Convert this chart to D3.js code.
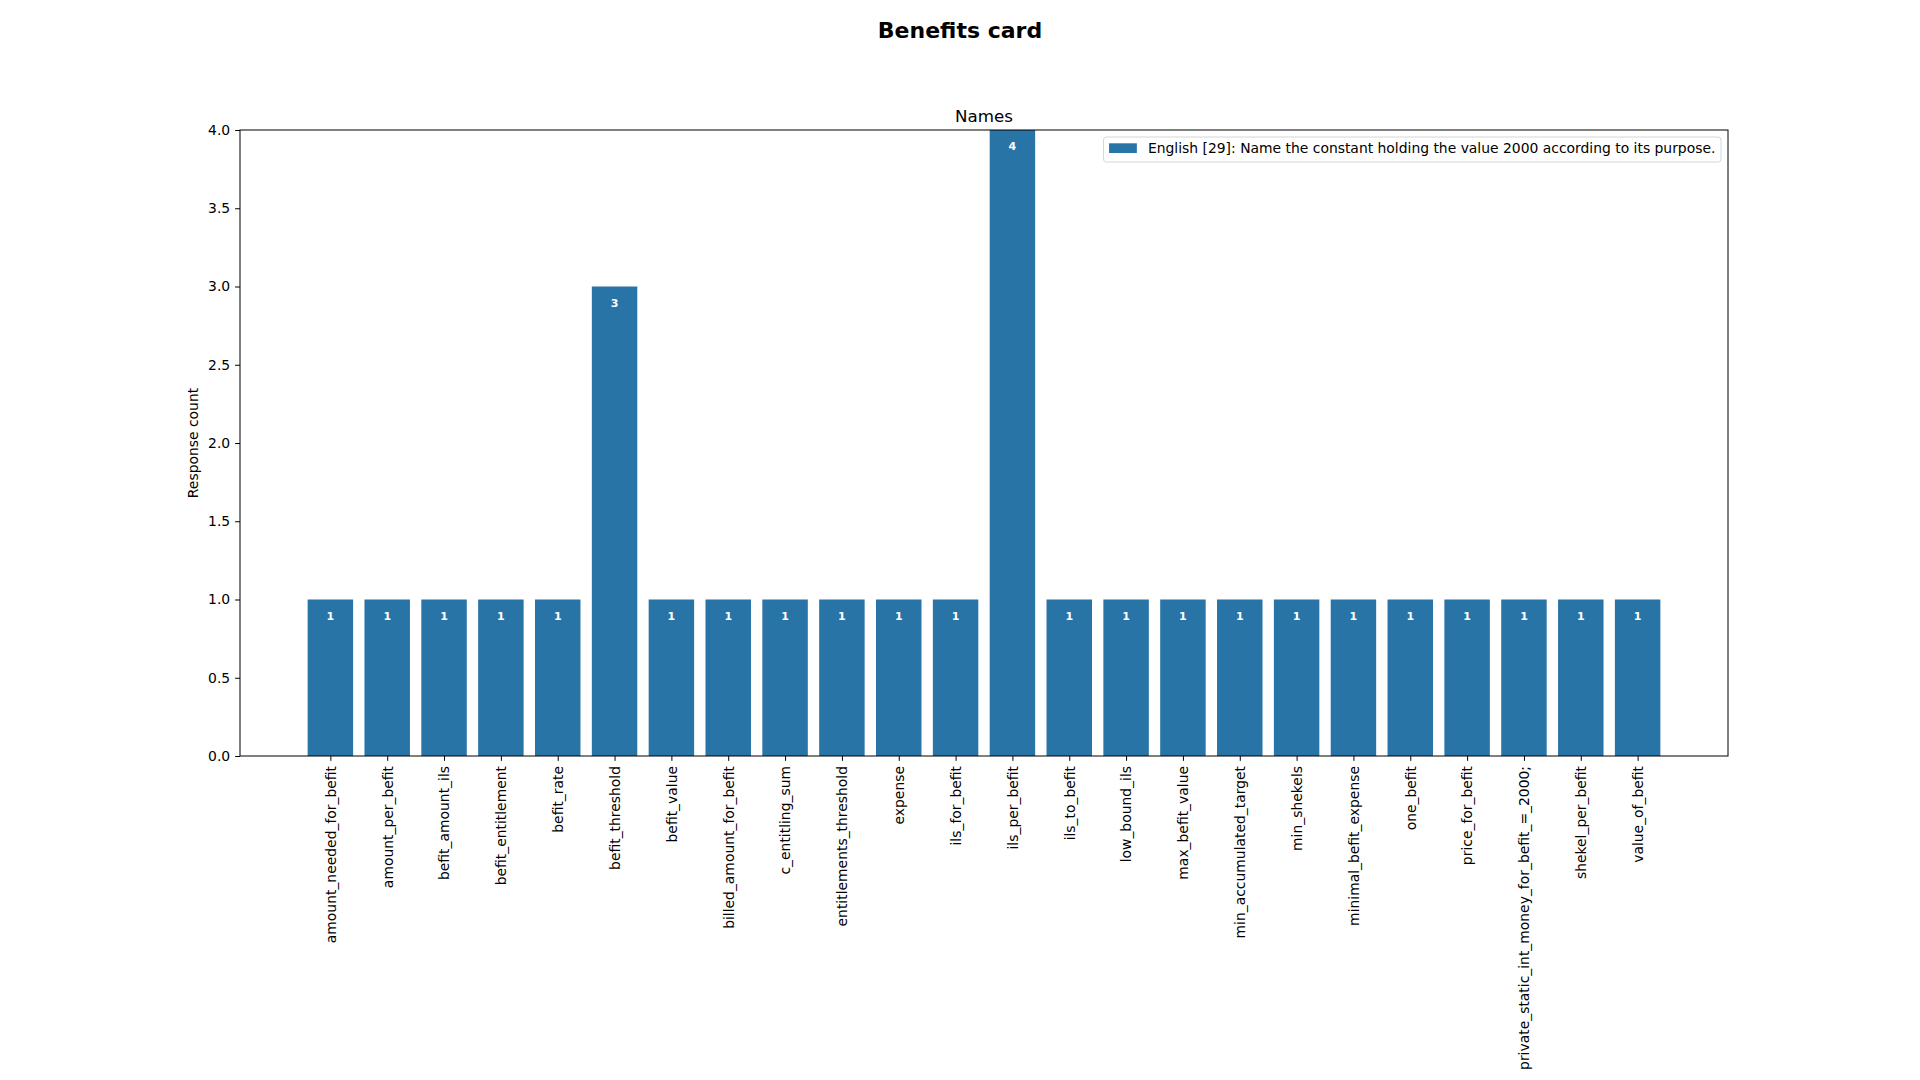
<!doctype html>
<html>
<head>
<meta charset="utf-8">
<style type="text/css">
  html, body { margin: 0; padding: 0; background-color: white; }
  svg { display: block; }
  text { font-family: "DejaVu Sans", sans-serif; fill: black; }
</style>
<script type="text/javascript" src="https://cdn.jsdelivr.net/npm/d3@7/dist/d3.min.js"></script>
</head>
<body>
<svg id="chart" width="1920" height="1080"></svg>
<script type="text/javascript">
  var names = [
    'amount_needed_for_befit', 'amount_per_befit', 'befit_amount_ils', 'befit_entitlement',
    'befit_rate', 'befit_threshold', 'befit_value', 'billed_amount_for_befit',
    'c_entitling_sum', 'entitlements_threshold', 'expense', 'ils_for_befit',
    'ils_per_befit', 'ils_to_befit', 'low_bound_ils', 'max_befit_value',
    'min_accumulated_target', 'min_shekels', 'minimal_befit_expense', 'one_befit',
    'price_for_befit', 'private_static_int_money_for_befit_=_2000;', 'shekel_per_befit', 'value_of_befit'
  ];
  var counts = [1, 1, 1, 1, 1, 3, 1, 1, 1, 1, 1, 1, 4, 1, 1, 1, 1, 1, 1, 1, 1, 1, 1, 1];
  var yTicks = [0, 0.5, 1, 1.5, 2, 2.5, 3, 3.5, 4];
  var seriesLabel = 'English [29]: Name the constant holding the value 2000 according to its purpose.';
  var barColor = '#2874a6';

  function draw() {
    var svg = d3.select('#chart');
    var mLeft = 240, mRight = 1728, mTop = 130, mBottom = 756;

    // matplotlib-like x range: bars of width 0.8, 5% margins
    var span = (names.length - 1) + 0.8;
    var pad = span * 0.05;
    var x = d3.scaleLinear()
      .domain([-0.4 - pad, names.length - 1 + 0.4 + pad])
      .range([mLeft, mRight]);
    var y = d3.scaleLinear().domain([0, 4]).range([mBottom, mTop]);

    // titles
    svg.append('text')
      .attr('x', 960).attr('y', 38)
      .attr('text-anchor', 'middle')
      .style('font-size', '22px').style('font-weight', 'bold')
      .text('Benefits card');

    svg.append('text')
      .attr('x', (mLeft + mRight) / 2).attr('y', mTop - 8)
      .attr('text-anchor', 'middle')
      .style('font-size', '16.7px')
      .text('Names');

    // bars
    var g = svg.append('g');
    g.selectAll('rect.bar').data(counts).enter().append('rect')
      .attr('class', 'bar')
      .attr('x', function(d, i) { return x(i - 0.4); })
      .attr('width', function(d, i) { return x(i + 0.4) - x(i - 0.4); })
      .attr('y', function(d) { return y(d); })
      .attr('height', function(d) { return y(0) - y(d); })
      .attr('fill', barColor);

    g.selectAll('text.val').data(counts).enter().append('text')
      .attr('class', 'val')
      .attr('x', function(d, i) { return x(i); })
      .attr('y', function(d) { return y(d) + 20; })
      .attr('text-anchor', 'middle')
      .style('font-size', '11px').style('font-weight', 'bold').style('fill', 'white')
      .text(function(d) { return d; });

    // axes
    var yAxis = d3.axisLeft(y).tickValues(yTicks).tickFormat(d3.format('.1f')).tickSize(4.9).tickPadding(4.9);
    var ya = svg.append('g').attr('transform', 'translate(' + mLeft + ',0)').call(yAxis);
    ya.select('.domain').remove();
    ya.selectAll('text').style('font-size', '13.9px').style('font-family', '"DejaVu Sans", sans-serif');

    var xAxis = d3.axisBottom(x).tickValues(d3.range(names.length))
      .tickFormat(function(i) { return names[i]; }).tickSize(4.9).tickPadding(4.9);
    var xa = svg.append('g').attr('transform', 'translate(0,' + mBottom + ')').call(xAxis);
    xa.select('.domain').remove();
    xa.selectAll('text')
      .style('font-size', '13.9px').style('font-family', '"DejaVu Sans", sans-serif')
      .attr('text-anchor', 'end')
      .attr('dy', '0.35em')
      .attr('transform', 'translate(0,10) rotate(-90)')
      .attr('x', 0).attr('y', 0);

    // frame
    svg.append('rect')
      .attr('x', mLeft).attr('y', mTop)
      .attr('width', mRight - mLeft).attr('height', mBottom - mTop)
      .attr('fill', 'none').attr('stroke', 'black').attr('stroke-width', 1);

    svg.append('text')
      .attr('transform', 'translate(198,' + ((mTop + mBottom) / 2) + ') rotate(-90)')
      .attr('text-anchor', 'middle')
      .style('font-size', '13.9px')
      .text('Response count');

    // legend
    var lg = svg.append('g');
    var lt = lg.append('text')
      .attr('x', 0).attr('y', 0)
      .style('font-size', '13.9px')
      .text(seriesLabel);
    var tw = lt.node().getComputedTextLength();
    var boxW = 5.6 + 27.8 + 11.1 + tw + 5.6;
    var boxX = mRight - 7 - boxW, boxY = mTop + 7, boxH = 25;
    lg.insert('rect', 'text')
      .attr('x', boxX).attr('y', boxY).attr('width', boxW).attr('height', boxH)
      .attr('rx', 3).attr('fill', 'white').attr('fill-opacity', 0.8)
      .attr('stroke', '#d6d6d6').attr('stroke-width', 1);
    lg.append('rect')
      .attr('x', boxX + 5.6).attr('y', boxY + 6.3).attr('width', 27.8).attr('height', 9.7)
      .attr('fill', barColor);
    lt.attr('x', boxX + 5.6 + 27.8 + 11.1).attr('y', boxY + 16);
  }

  draw();
</script>
</body>
</html>
